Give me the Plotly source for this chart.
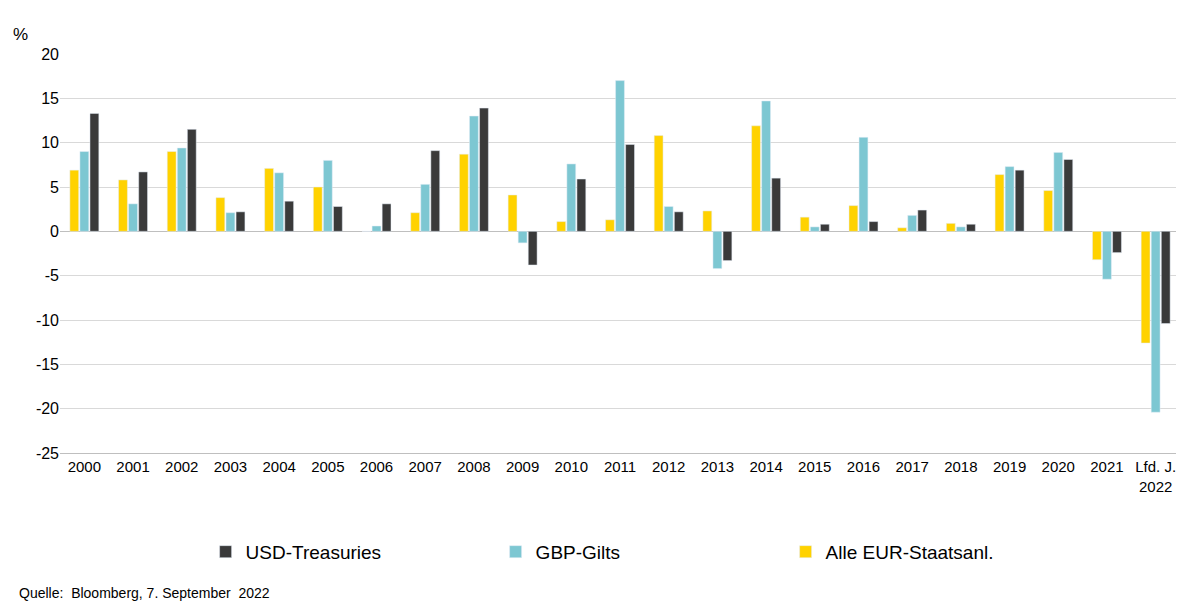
import plotly.graph_objects as go

years = [str(y) for y in range(2000, 2022)] + ["Lfd. J.<br>2022"]
eur = [6.9, 5.8, 9.0, 3.8, 7.1, 5.0, 0.0, 2.1, 8.7, 4.1, 1.1, 1.3, 10.8, 2.3, 11.9, 1.6, 2.9, 0.4, 0.9, 6.4, 4.6, -3.2, -12.6]
gbp = [9.0, 3.1, 9.4, 2.1, 6.6, 8.0, 0.6, 5.3, 13.0, -1.3, 7.6, 17.0, 2.8, -4.2, 14.7, 0.5, 10.6, 1.8, 0.5, 7.3, 8.9, -5.4, -20.4]
usd = [13.3, 6.7, 11.5, 2.2, 3.4, 2.8, 3.1, 9.1, 13.9, -3.8, 5.9, 9.8, 2.2, -3.3, 6.0, 0.8, 1.1, 2.4, 0.8, 6.9, 8.1, -2.4, -10.4]
ytick_vals = [20, 15, 10, 5, 0, -5, -10, -15, -20, -25]

fig = go.Figure()
fig.add_bar(x=years, y=eur, name="Alle EUR-Staatsanl.", marker_color="#FFD200")
fig.add_bar(x=years, y=gbp, name="GBP-Gilts", marker_color="#7DC7D2")
fig.add_bar(x=years, y=usd, name="USD-Treasuries", marker_color="#3A3A3A")

fig.update_layout(
    width=1184, height=606,
    barmode="group", bargap=0.38, bargroupgap=0.12,
    plot_bgcolor="white", paper_bgcolor="white",
    font=dict(family="Liberation Sans, Arial", size=16, color="black"),
    margin=dict(l=52, r=12, t=46, b=161, autoexpand=False),
    showlegend=True,
    legend=dict(orientation="h", traceorder="reversed", x=0.13, y=-0.2,
                xanchor="left", yanchor="top", entrywidth=245, font=dict(size=19)),
    annotations=[
        dict(text="%", xref="paper", yref="paper", x=-0.035, y=1.02, xanchor="center",
             yanchor="bottom", showarrow=False, font=dict(size=17)),
        dict(text="Quelle:  Bloomberg, 7. September  2022", xref="paper", yref="paper",
             x=-0.038, y=-0.35, xanchor="left", yanchor="middle", showarrow=False, font=dict(size=14)),
    ],
)
fig.update_yaxes(range=[-25, 20], tickvals=ytick_vals, ticktext=[str(v) for v in ytick_vals],
                 gridcolor="#D9D9D9", zeroline=True,
                 zerolinecolor="#BFBFBF", zerolinewidth=1, ticks="", tickfont=dict(size=16))
fig.update_xaxes(showline=True, linecolor="#BFBFBF", tickfont=dict(size=15), ticks="")

fig.write_html("out.html")
